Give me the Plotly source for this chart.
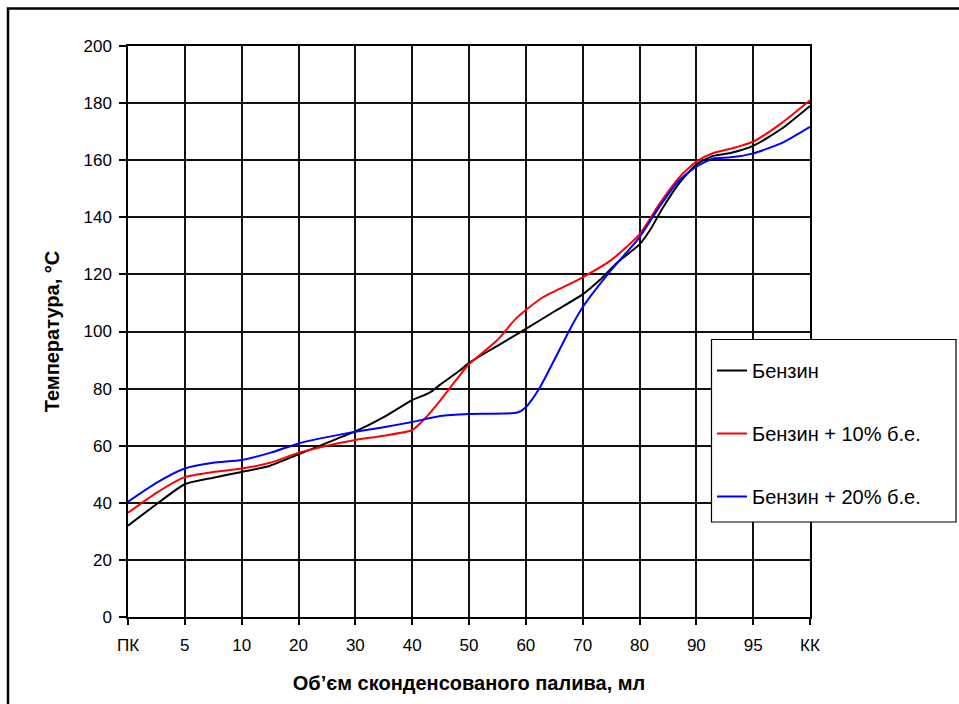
import plotly.graph_objects as go

# Distillation curves: temperature vs. condensed fuel volume
tick_labels = ["ПК", "5", "10", "20", "30", "40", "50", "60", "70", "80", "90", "95", "КК"]

# Sample positions along the category axis (0 = ПК ... 12 = КК) and temperatures, °C
x_benzyn = [0, 0.5, 1, 1.5, 2, 2.5, 3, 3.5, 4, 4.5, 5, 5.3, 5.5, 5.85, 6, 6.5, 7, 7.5, 8,
            8.3, 8.6, 9, 9.2, 9.4, 9.7, 10, 10.3, 10.6, 11, 11.5, 12]
t_benzyn = [32, 39.5, 46.5, 48.8, 50.8, 53, 57, 61, 65, 70, 76, 78.5, 81.5, 86.5, 89, 95, 100.9, 107, 113,
            118, 124, 130.5, 136, 143, 152, 158.5, 161.5, 162.5, 165, 171, 179]

x_be10 = [0, 0.5, 1, 1.5, 2, 2.5, 3, 3.5, 4, 4.5, 5, 5.2, 5.5, 5.85, 6, 6.5, 6.8, 7, 7.3, 7.6,
          8, 8.5, 9, 9.36, 9.7, 10, 10.3, 10.6, 11, 11.5, 12]
t_be10 = [36.5, 43.5, 49, 50.8, 52, 54, 57.5, 60, 62, 63.5, 65.5, 69, 76, 85, 88.5, 97, 104, 107.5, 112, 115,
          119, 125, 134, 145, 154, 159.5, 162.5, 164, 166.5, 173, 181]

x_be20 = [0, 0.5, 1, 1.5, 2, 2.5, 3, 3.5, 4, 4.5, 5, 5.5, 6, 6.85, 7, 7.25, 7.5, 7.8, 8,
          8.5, 9, 9.36, 9.7, 10, 10.3, 10.6, 11, 11.5, 12]
t_be20 = [40.4, 47, 52, 54, 55, 57.5, 60.8, 63, 64.9, 66.5, 68.3, 70.4, 71.1, 71.6, 73.5, 80.5, 90, 101.7, 108.5,
          121.5, 133, 144, 153, 157.7, 160.6, 161, 162.4, 166, 171.7]

series = [
    ("Бензин", x_benzyn, t_benzyn, "#000000"),
    ("Бензин + 10% б.е.", x_be10, t_be10, "#ff0000"),
    ("Бензин + 20% б.е.", x_be20, t_be20, "#0000ff"),
]

FONT = "Liberation Sans, Arial, sans-serif"

fig = go.Figure()
for i, (name, xs, ys, color) in enumerate(series):
    fig.add_trace(go.Scatter(
        x=xs, y=ys, name=name, mode="lines",
        line=dict(color=color, width=2, shape="spline", smoothing=0.6),
        legendgroup=f"g{i}",
    ))

L, R, T, B = 128, 149, 46, 87
W, H = 959, 704
pw, ph = W - L - R, H - T - B

def px_x(px):
    return (px - L) / pw

def px_y(py):
    return (H - B - py) / ph

fig.update_layout(
    width=W, height=H,
    margin=dict(l=L, r=R, t=T, b=B),
    paper_bgcolor="white", plot_bgcolor="white",
    font=dict(family=FONT, color="#000", size=17),
    showlegend=True,
    legend=dict(
        x=px_x(712), y=px_y(351), xanchor="left", yanchor="top",
        bgcolor="rgba(0,0,0,0)", borderwidth=0,
        font=dict(size=20, family=FONT),
        tracegroupgap=34, itemwidth=30,
    ),
    xaxis=dict(
        range=[0, 12], tickmode="array", tickvals=list(range(len(tick_labels))),
        ticktext=tick_labels, ticks="outside", ticklen=6, tickwidth=1.5, tickcolor="#000",
        ticklabelstandoff=6,
        showgrid=True, gridcolor="#111", gridwidth=1.5,
        showline=True, linecolor="#000", linewidth=1.5, mirror=True,
        zeroline=False, tickfont=dict(size=17),
        title=dict(text="<b>Об’єм сконденсованого палива, мл</b>", font=dict(size=20), standoff=22),
    ),
    yaxis=dict(
        range=[0, 200], tickmode="linear", tick0=0, dtick=20,
        ticks="outside", ticklen=7, tickwidth=1.5, tickcolor="#000",
        ticklabelstandoff=4,
        showgrid=True, gridcolor="#111", gridwidth=1.5,
        showline=True, linecolor="#000", linewidth=1.5, mirror=True,
        zeroline=False, tickfont=dict(size=17),
        title=dict(text="<b>Температура, °С</b>", font=dict(size=20), standoff=18),
    ),
    shapes=[
        # outer chart frame
        dict(type="rect", xref="paper", yref="paper",
             x0=px_x(8), x1=px_x(1000), y0=px_y(760), y1=px_y(8.5),
             line=dict(color="#000", width=2.5), fillcolor="rgba(0,0,0,0)", layer="below"),
        # legend box
        dict(type="rect", xref="paper", yref="paper",
             x0=px_x(711.5), x1=px_x(956), y0=px_y(522), y1=px_y(339.5),
             line=dict(color="#000", width=1.2), fillcolor="white", layer="above"),
    ],
)

fig.write_html("out.html")
